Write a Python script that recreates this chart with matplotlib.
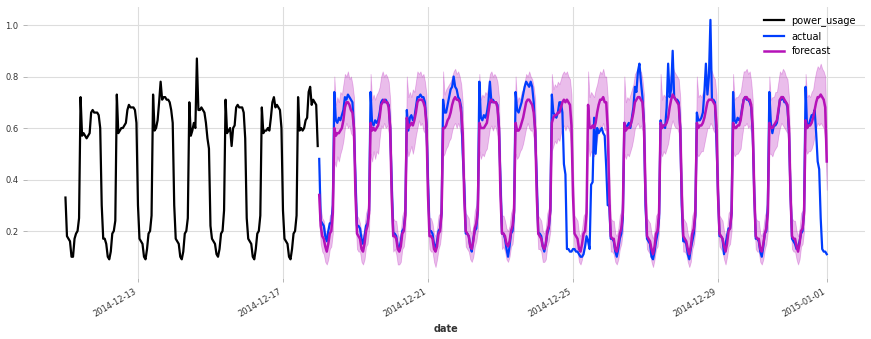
import matplotlib
matplotlib.use("Agg")
import matplotlib.pyplot as plt
import matplotlib.dates as mdates
import numpy as np
import pandas as pd

# ---------- data (hourly values, one row per day) --------------------------
history_start = "2014-12-11 00:00"
forecast_start = "2014-12-18 00:00"

# power_usage, 2014-12-11 .. 2014-12-17
power_usage_days = [
    [0.33, 0.18, 0.17, 0.16, 0.10, 0.10, 0.17, 0.19, 0.20, 0.25, 0.72, 0.57, 0.58, 0.57, 0.56, 0.57, 0.58, 0.66, 0.67, 0.66, 0.66, 0.66, 0.65, 0.60],
    [0.30, 0.17, 0.17, 0.15, 0.10, 0.09, 0.12, 0.19, 0.20, 0.24, 0.73, 0.58, 0.59, 0.60, 0.60, 0.61, 0.62, 0.67, 0.69, 0.68, 0.68, 0.68, 0.67, 0.62],
    [0.30, 0.17, 0.16, 0.15, 0.10, 0.09, 0.13, 0.19, 0.20, 0.26, 0.73, 0.59, 0.60, 0.63, 0.70, 0.78, 0.71, 0.72, 0.72, 0.71, 0.71, 0.70, 0.67, 0.62],
    [0.30, 0.17, 0.16, 0.15, 0.10, 0.09, 0.12, 0.19, 0.20, 0.25, 0.70, 0.57, 0.59, 0.62, 0.60, 0.87, 0.67, 0.67, 0.68, 0.67, 0.66, 0.62, 0.56, 0.52],
    [0.22, 0.17, 0.16, 0.15, 0.11, 0.10, 0.13, 0.19, 0.20, 0.28, 0.71, 0.58, 0.59, 0.60, 0.53, 0.60, 0.61, 0.68, 0.69, 0.68, 0.68, 0.68, 0.66, 0.56],
    [0.25, 0.17, 0.16, 0.15, 0.10, 0.09, 0.13, 0.19, 0.20, 0.26, 0.68, 0.58, 0.59, 0.59, 0.60, 0.59, 0.64, 0.70, 0.72, 0.68, 0.69, 0.68, 0.67, 0.60],
    [0.28, 0.17, 0.16, 0.15, 0.10, 0.09, 0.13, 0.19, 0.20, 0.26, 0.72, 0.59, 0.60, 0.59, 0.60, 0.63, 0.64, 0.74, 0.76, 0.69, 0.71, 0.70, 0.69, 0.53],
]

# actual, 2014-12-18 .. 2014-12-31, plus 2015-01-01 00:00
actual_days = [
    [0.48, 0.24, 0.23, 0.22, 0.18, 0.16, 0.20, 0.23, 0.23, 0.30, 0.74, 0.63, 0.62, 0.64, 0.63, 0.65, 0.67, 0.72, 0.71, 0.73, 0.72, 0.71, 0.70, 0.60],
    [0.40, 0.22, 0.22, 0.21, 0.17, 0.15, 0.18, 0.22, 0.23, 0.28, 0.74, 0.62, 0.61, 0.63, 0.62, 0.63, 0.66, 0.70, 0.71, 0.70, 0.71, 0.70, 0.69, 0.60],
    [0.38, 0.19, 0.19, 0.18, 0.14, 0.13, 0.16, 0.20, 0.21, 0.27, 0.67, 0.59, 0.64, 0.65, 0.63, 0.64, 0.68, 0.72, 0.72, 0.73, 0.72, 0.72, 0.70, 0.62],
    [0.40, 0.20, 0.20, 0.19, 0.15, 0.13, 0.16, 0.20, 0.21, 0.27, 0.71, 0.66, 0.66, 0.69, 0.72, 0.75, 0.76, 0.80, 0.76, 0.75, 0.72, 0.71, 0.68, 0.50],
    [0.38, 0.19, 0.19, 0.18, 0.14, 0.12, 0.17, 0.20, 0.21, 0.28, 0.78, 0.64, 0.63, 0.65, 0.64, 0.66, 0.70, 0.78, 0.70, 0.71, 0.70, 0.70, 0.69, 0.60],
    [0.40, 0.19, 0.19, 0.17, 0.13, 0.10, 0.14, 0.19, 0.20, 0.27, 0.74, 0.67, 0.66, 0.68, 0.70, 0.73, 0.76, 0.78, 0.77, 0.76, 0.78, 0.76, 0.70, 0.58],
    [0.40, 0.19, 0.19, 0.18, 0.14, 0.12, 0.15, 0.19, 0.21, 0.28, 0.73, 0.66, 0.65, 0.64, 0.66, 0.70, 0.70, 0.66, 0.46, 0.42, 0.13, 0.13, 0.12, 0.12],
    [0.13, 0.13, 0.12, 0.12, 0.11, 0.10, 0.10, 0.11, 0.14, 0.18, 0.16, 0.13, 0.38, 0.39, 0.64, 0.50, 0.60, 0.58, 0.59, 0.60, 0.58, 0.57, 0.45, 0.30],
    [0.30, 0.17, 0.17, 0.16, 0.12, 0.10, 0.13, 0.17, 0.19, 0.25, 0.62, 0.60, 0.61, 0.62, 0.60, 0.64, 0.68, 0.76, 0.74, 0.82, 0.85, 0.78, 0.72, 0.62],
    [0.30, 0.17, 0.16, 0.15, 0.10, 0.09, 0.12, 0.16, 0.19, 0.25, 0.63, 0.60, 0.61, 0.60, 0.68, 0.85, 0.72, 0.75, 0.90, 0.72, 0.71, 0.71, 0.70, 0.60],
    [0.30, 0.16, 0.16, 0.15, 0.11, 0.09, 0.13, 0.16, 0.19, 0.26, 0.66, 0.63, 0.63, 0.64, 0.66, 0.74, 0.85, 0.73, 0.80, 1.02, 0.71, 0.71, 0.70, 0.55],
    [0.35, 0.18, 0.18, 0.17, 0.11, 0.15, 0.18, 0.21, 0.21, 0.27, 0.74, 0.63, 0.62, 0.64, 0.63, 0.64, 0.68, 0.71, 0.72, 0.71, 0.71, 0.70, 0.68, 0.58],
    [0.35, 0.17, 0.17, 0.16, 0.12, 0.10, 0.14, 0.19, 0.20, 0.30, 0.74, 0.62, 0.58, 0.61, 0.61, 0.62, 0.66, 0.71, 0.71, 0.72, 0.70, 0.70, 0.68, 0.58],
    [0.35, 0.17, 0.16, 0.15, 0.13, 0.14, 0.16, 0.19, 0.20, 0.28, 0.76, 0.60, 0.61, 0.63, 0.65, 0.65, 0.67, 0.58, 0.47, 0.44, 0.25, 0.13, 0.12, 0.12],
]
actual_last = 0.11

# forecast median, 2014-12-18 .. 2014-12-31, plus 2015-01-01 00:00
forecast_days = [
    [0.34, 0.22, 0.18, 0.17, 0.14, 0.12, 0.15, 0.19, 0.20, 0.27, 0.60, 0.57, 0.58, 0.58, 0.59, 0.60, 0.63, 0.68, 0.70, 0.70, 0.69, 0.67, 0.66, 0.60],
    [0.34, 0.19, 0.18, 0.17, 0.13, 0.12, 0.15, 0.20, 0.22, 0.27, 0.62, 0.59, 0.60, 0.59, 0.60, 0.61, 0.64, 0.69, 0.70, 0.71, 0.70, 0.70, 0.68, 0.60],
    [0.33, 0.18, 0.18, 0.17, 0.13, 0.12, 0.14, 0.19, 0.20, 0.26, 0.64, 0.60, 0.61, 0.62, 0.61, 0.63, 0.66, 0.70, 0.71, 0.71, 0.71, 0.70, 0.68, 0.61],
    [0.34, 0.18, 0.18, 0.17, 0.13, 0.12, 0.14, 0.19, 0.20, 0.27, 0.60, 0.60, 0.61, 0.63, 0.64, 0.66, 0.69, 0.71, 0.72, 0.71, 0.71, 0.70, 0.66, 0.58],
    [0.33, 0.20, 0.19, 0.18, 0.14, 0.13, 0.16, 0.21, 0.23, 0.28, 0.62, 0.60, 0.60, 0.60, 0.61, 0.62, 0.66, 0.70, 0.71, 0.70, 0.70, 0.70, 0.68, 0.60],
    [0.34, 0.19, 0.19, 0.18, 0.15, 0.14, 0.16, 0.20, 0.22, 0.28, 0.62, 0.59, 0.59, 0.60, 0.62, 0.64, 0.67, 0.70, 0.71, 0.71, 0.70, 0.69, 0.66, 0.59],
    [0.34, 0.19, 0.18, 0.17, 0.14, 0.13, 0.15, 0.20, 0.22, 0.28, 0.62, 0.64, 0.65, 0.65, 0.66, 0.66, 0.68, 0.70, 0.71, 0.70, 0.71, 0.70, 0.69, 0.61],
    [0.34, 0.19, 0.18, 0.17, 0.13, 0.12, 0.15, 0.19, 0.20, 0.27, 0.69, 0.60, 0.60, 0.61, 0.60, 0.62, 0.66, 0.69, 0.71, 0.71, 0.72, 0.70, 0.70, 0.60],
    [0.34, 0.18, 0.17, 0.17, 0.13, 0.12, 0.15, 0.19, 0.21, 0.27, 0.62, 0.59, 0.60, 0.60, 0.61, 0.63, 0.66, 0.70, 0.71, 0.72, 0.72, 0.71, 0.70, 0.61],
    [0.34, 0.18, 0.17, 0.16, 0.13, 0.11, 0.14, 0.19, 0.20, 0.27, 0.62, 0.60, 0.61, 0.61, 0.62, 0.64, 0.68, 0.71, 0.73, 0.72, 0.71, 0.70, 0.69, 0.60],
    [0.34, 0.18, 0.17, 0.16, 0.13, 0.11, 0.14, 0.19, 0.21, 0.27, 0.62, 0.60, 0.61, 0.61, 0.62, 0.64, 0.67, 0.70, 0.71, 0.71, 0.71, 0.70, 0.69, 0.61],
    [0.34, 0.19, 0.18, 0.17, 0.14, 0.12, 0.15, 0.20, 0.21, 0.27, 0.62, 0.60, 0.60, 0.61, 0.61, 0.63, 0.67, 0.71, 0.72, 0.72, 0.71, 0.71, 0.69, 0.60],
    [0.34, 0.18, 0.17, 0.17, 0.13, 0.12, 0.15, 0.19, 0.21, 0.27, 0.62, 0.60, 0.60, 0.61, 0.62, 0.63, 0.67, 0.71, 0.72, 0.72, 0.71, 0.70, 0.69, 0.60],
    [0.34, 0.18, 0.17, 0.17, 0.14, 0.12, 0.15, 0.20, 0.21, 0.27, 0.63, 0.60, 0.61, 0.61, 0.62, 0.64, 0.67, 0.70, 0.72, 0.72, 0.73, 0.72, 0.71, 0.68],
]
forecast_last = 0.47

# forecast quantile band (low / high)
forecast_low_days = [
    [0.24, 0.15, 0.12, 0.11, 0.08, 0.07, 0.09, 0.13, 0.14, 0.19, 0.47, 0.45, 0.49, 0.47, 0.50, 0.52, 0.55, 0.60, 0.62, 0.60, 0.61, 0.58, 0.57, 0.48],
    [0.25, 0.13, 0.12, 0.12, 0.08, 0.07, 0.09, 0.14, 0.15, 0.20, 0.50, 0.47, 0.51, 0.48, 0.51, 0.50, 0.56, 0.61, 0.60, 0.62, 0.60, 0.61, 0.58, 0.47],
    [0.24, 0.12, 0.13, 0.11, 0.07, 0.07, 0.08, 0.13, 0.14, 0.19, 0.52, 0.49, 0.51, 0.53, 0.50, 0.53, 0.57, 0.60, 0.63, 0.61, 0.62, 0.59, 0.58, 0.49],
    [0.25, 0.13, 0.12, 0.12, 0.08, 0.06, 0.09, 0.13, 0.15, 0.20, 0.49, 0.50, 0.52, 0.53, 0.55, 0.56, 0.59, 0.61, 0.62, 0.60, 0.62, 0.60, 0.56, 0.46],
    [0.24, 0.14, 0.13, 0.12, 0.09, 0.08, 0.10, 0.14, 0.16, 0.20, 0.51, 0.48, 0.50, 0.49, 0.51, 0.52, 0.56, 0.60, 0.61, 0.59, 0.61, 0.60, 0.57, 0.48],
    [0.25, 0.13, 0.14, 0.12, 0.09, 0.08, 0.10, 0.14, 0.15, 0.21, 0.50, 0.48, 0.49, 0.51, 0.52, 0.54, 0.57, 0.60, 0.62, 0.60, 0.59, 0.59, 0.56, 0.47],
    [0.25, 0.13, 0.13, 0.12, 0.08, 0.08, 0.09, 0.14, 0.16, 0.20, 0.51, 0.53, 0.55, 0.54, 0.56, 0.55, 0.58, 0.60, 0.61, 0.59, 0.61, 0.60, 0.58, 0.49],
    [0.25, 0.13, 0.12, 0.12, 0.08, 0.07, 0.09, 0.13, 0.14, 0.19, 0.55, 0.49, 0.51, 0.50, 0.49, 0.52, 0.56, 0.59, 0.61, 0.60, 0.62, 0.59, 0.60, 0.48],
    [0.25, 0.12, 0.12, 0.11, 0.08, 0.07, 0.09, 0.13, 0.15, 0.20, 0.50, 0.48, 0.50, 0.49, 0.51, 0.53, 0.56, 0.60, 0.61, 0.62, 0.60, 0.61, 0.59, 0.49],
    [0.24, 0.13, 0.12, 0.11, 0.08, 0.06, 0.09, 0.13, 0.14, 0.20, 0.51, 0.49, 0.51, 0.50, 0.52, 0.54, 0.58, 0.61, 0.63, 0.61, 0.60, 0.60, 0.58, 0.48],
    [0.25, 0.12, 0.12, 0.11, 0.08, 0.06, 0.08, 0.13, 0.15, 0.20, 0.50, 0.49, 0.50, 0.51, 0.51, 0.54, 0.57, 0.60, 0.60, 0.62, 0.61, 0.59, 0.58, 0.49],
    [0.24, 0.14, 0.13, 0.12, 0.09, 0.07, 0.10, 0.14, 0.15, 0.20, 0.51, 0.49, 0.50, 0.50, 0.51, 0.52, 0.57, 0.61, 0.61, 0.62, 0.60, 0.61, 0.58, 0.47],
    [0.25, 0.13, 0.12, 0.12, 0.08, 0.07, 0.09, 0.13, 0.15, 0.20, 0.50, 0.50, 0.49, 0.51, 0.52, 0.53, 0.57, 0.60, 0.62, 0.61, 0.60, 0.59, 0.58, 0.48],
    [0.25, 0.13, 0.12, 0.12, 0.09, 0.07, 0.09, 0.14, 0.15, 0.20, 0.52, 0.50, 0.51, 0.51, 0.52, 0.54, 0.57, 0.60, 0.62, 0.61, 0.62, 0.61, 0.60, 0.55],
]
forecast_low_last = 0.36

forecast_high_days = [
    [0.46, 0.29, 0.25, 0.24, 0.20, 0.18, 0.21, 0.26, 0.27, 0.36, 0.80, 0.69, 0.72, 0.70, 0.74, 0.73, 0.77, 0.81, 0.80, 0.82, 0.79, 0.80, 0.77, 0.72],
    [0.45, 0.26, 0.25, 0.23, 0.19, 0.18, 0.22, 0.27, 0.29, 0.35, 0.81, 0.71, 0.73, 0.71, 0.73, 0.74, 0.76, 0.80, 0.82, 0.80, 0.81, 0.80, 0.78, 0.71],
    [0.44, 0.25, 0.24, 0.24, 0.19, 0.17, 0.20, 0.26, 0.28, 0.34, 0.80, 0.72, 0.74, 0.72, 0.75, 0.74, 0.78, 0.82, 0.81, 0.82, 0.80, 0.81, 0.78, 0.73],
    [0.45, 0.25, 0.25, 0.23, 0.19, 0.18, 0.21, 0.26, 0.27, 0.35, 0.82, 0.73, 0.75, 0.76, 0.77, 0.78, 0.80, 0.82, 0.83, 0.81, 0.82, 0.80, 0.77, 0.70],
    [0.44, 0.27, 0.26, 0.25, 0.20, 0.19, 0.22, 0.28, 0.30, 0.36, 0.81, 0.71, 0.73, 0.72, 0.74, 0.73, 0.77, 0.81, 0.82, 0.80, 0.81, 0.80, 0.78, 0.72],
    [0.45, 0.26, 0.26, 0.24, 0.21, 0.20, 0.22, 0.27, 0.29, 0.36, 0.80, 0.70, 0.72, 0.71, 0.74, 0.75, 0.78, 0.81, 0.80, 0.82, 0.80, 0.79, 0.76, 0.71],
    [0.45, 0.26, 0.25, 0.24, 0.20, 0.19, 0.21, 0.27, 0.29, 0.36, 0.81, 0.75, 0.77, 0.76, 0.78, 0.77, 0.79, 0.81, 0.82, 0.81, 0.82, 0.80, 0.79, 0.73],
    [0.45, 0.26, 0.25, 0.24, 0.19, 0.18, 0.21, 0.26, 0.27, 0.35, 0.82, 0.72, 0.74, 0.73, 0.72, 0.75, 0.77, 0.80, 0.82, 0.81, 0.83, 0.80, 0.80, 0.72],
    [0.45, 0.25, 0.24, 0.24, 0.19, 0.18, 0.21, 0.26, 0.28, 0.35, 0.80, 0.70, 0.72, 0.71, 0.73, 0.75, 0.77, 0.81, 0.82, 0.83, 0.81, 0.82, 0.79, 0.73],
    [0.45, 0.25, 0.24, 0.23, 0.19, 0.17, 0.20, 0.26, 0.27, 0.35, 0.81, 0.71, 0.73, 0.72, 0.74, 0.76, 0.79, 0.82, 0.84, 0.82, 0.81, 0.80, 0.79, 0.72],
    [0.45, 0.25, 0.24, 0.23, 0.19, 0.17, 0.20, 0.26, 0.28, 0.35, 0.80, 0.72, 0.73, 0.72, 0.74, 0.75, 0.78, 0.81, 0.81, 0.83, 0.82, 0.80, 0.79, 0.73],
    [0.44, 0.26, 0.25, 0.24, 0.20, 0.18, 0.21, 0.27, 0.28, 0.35, 0.81, 0.71, 0.72, 0.72, 0.73, 0.74, 0.78, 0.82, 0.82, 0.83, 0.81, 0.82, 0.78, 0.71],
    [0.45, 0.25, 0.24, 0.24, 0.19, 0.18, 0.21, 0.26, 0.28, 0.35, 0.80, 0.71, 0.72, 0.72, 0.74, 0.74, 0.78, 0.82, 0.81, 0.83, 0.82, 0.80, 0.79, 0.72],
    [0.45, 0.25, 0.24, 0.24, 0.20, 0.18, 0.21, 0.27, 0.28, 0.35, 0.81, 0.72, 0.73, 0.72, 0.74, 0.75, 0.79, 0.82, 0.84, 0.83, 0.85, 0.83, 0.82, 0.80],
]
forecast_high_last = 0.56


# ---------- assemble hourly series ----------------------------------------
def flatten(days, last=None):
    vals = [v for day in days for v in day]
    if last is not None:
        vals.append(last)
    return np.array(vals)


power_usage = flatten(power_usage_days)
actual = flatten(actual_days, actual_last)
forecast = flatten(forecast_days, forecast_last)
forecast_low = flatten(forecast_low_days, forecast_low_last)
forecast_high = flatten(forecast_high_days, forecast_high_last)

t_hist = pd.date_range(history_start, periods=len(power_usage), freq="h")
t_pred = pd.date_range(forecast_start, periods=len(actual), freq="h")

# ---------- plot -----------------------------------------------------------
BLACK, BLUE, MAGENTA = "#000000", "#003DFD", "#B512B8"

fig = plt.figure(figsize=(8.71, 3.39), dpi=100)
ax = fig.add_axes([27.4 / 871, 61 / 339, 837.4 / 871, 271 / 339])

ax.plot(t_hist, power_usage, color=BLACK, lw=1.6, label="power_usage")
ax.plot(t_pred, actual, color=BLUE, lw=1.6, label="actual")
ax.fill_between(t_pred, forecast_low, forecast_high, color=MAGENTA,
                alpha=0.28, lw=0.6)
ax.plot(t_pred, forecast, color=MAGENTA, lw=1.8, label="forecast")

ax.margins(x=0.05)
ax.set_ylim(0.0175, 1.07)
ax.set_yticks([0.2, 0.4, 0.6, 0.8, 1.0])
ax.xaxis.set_major_locator(mdates.DayLocator(bymonthday=[1, 5, 9, 13, 17, 21, 25, 29]))
ax.xaxis.set_major_formatter(mdates.DateFormatter("%Y-%m-%d"))
for lbl in ax.get_xticklabels():
    lbl.set_rotation(30)
    lbl.set_ha("right")

ax.grid(True, color="#dddddd", lw=0.8)
ax.set_axisbelow(True)
for s in ax.spines.values():
    s.set_visible(False)
ax.tick_params(labelsize=6, length=3, width=0.6, color="#aaaaaa",
               labelcolor="#333333")
ax.set_xlabel("date", fontsize=7, fontweight="bold", color="#333333")

ax.legend(loc="upper right", frameon=False, fontsize=7)

fig.savefig("out.png", dpi=100)
